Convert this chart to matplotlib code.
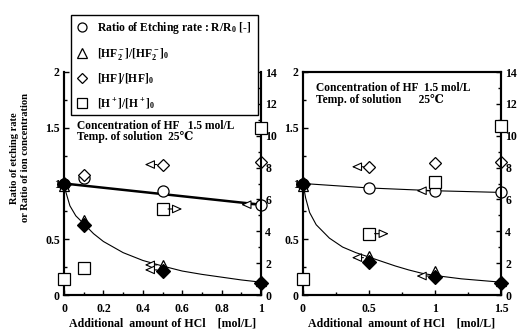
import numpy as np
import matplotlib
matplotlib.use("Agg")
import matplotlib.pyplot as plt
from matplotlib.lines import Line2D
from matplotlib.ticker import MultipleLocator

plt.rcParams['font.family'] = ['Liberation Serif', 'DejaVu Serif']
plt.rcParams['font.weight'] = 'bold'
plt.rcParams['axes.labelweight'] = 'bold'
plt.rcParams['mathtext.fontset'] = 'custom'
plt.rcParams['mathtext.rm'] = 'Liberation Serif:bold'
plt.rcParams['mathtext.it'] = 'Liberation Serif:bold'
plt.rcParams['mathtext.bf'] = 'Liberation Serif:bold'

# Data: left panel (HCl 0-1 mol/L)
hcl_a = [0, 0.1, 0.5, 1.0]
rate_a = [1.0, 1.05, 0.93, 0.81]
hf2_a = [0.98, 0.67, 0.27, 0.13]
hf_a = [1.0, 1.08, 1.17, 1.19]
calc_a = [1.0, 0.63, 0.215, 0.11]
h_a = [0.98, 1.68, 5.4, 10.5]          # right axis
fit_x_a = [0, 1.0]
fit_y_a = [1.0, 0.81]
curve_x_a = [0, 0.01, 0.03, 0.06, 0.1, 0.15, 0.2, 0.3, 0.4, 0.5, 0.6, 0.7, 0.8, 0.9, 1.0]
curve_y_a = [1.0, 0.92, 0.80, 0.71, 0.64, 0.55, 0.48, 0.38, 0.31, 0.26, 0.215, 0.185, 0.16, 0.135, 0.115]
# arrows: (from x, y, to x)
left_arr_a = [(0.5, 1.17, 0.41), (0.5, 0.27, 0.41), (0.5, 0.225, 0.41), (1.0, 0.81, 0.90)]
right_arr_a = [(0.5, 5.4, 0.60)]

# Data: right panel (HCl 0-1.5 mol/L)
hcl_b = [0, 0.5, 1.0, 1.5]
rate_b = [1.0, 0.96, 0.935, 0.92]
hf2_b = [0.98, 0.35, 0.215, 0.13]
hf_b = [1.0, 1.15, 1.18, 1.195]
calc_b = [1.0, 0.30, 0.165, 0.11]
h_b = [0.98, 3.85, 7.1, 10.6]
curve_x_b = [0, 0.02, 0.05, 0.1, 0.2, 0.3, 0.4, 0.5, 0.6, 0.7, 0.8, 0.9, 1.0, 1.2, 1.5]
curve_y_b = [1.0, 0.87, 0.74, 0.63, 0.51, 0.43, 0.38, 0.34, 0.30, 0.26, 0.225, 0.195, 0.175, 0.145, 0.115]
left_arr_b = [(0.5, 1.15, 0.37), (0.5, 0.335, 0.37), (1.0, 0.935, 0.86), (1.0, 0.17, 0.86)]
right_arr_b = [(0.5, 3.85, 0.65)]

W, H = 519, 329
fig = plt.figure(figsize=(W / 100, H / 100), dpi=100)

def arrow(ax, x0, y, x1):
    ax.annotate('', xy=(x1, y), xytext=(x0, y), annotation_clip=False,
                arrowprops=dict(arrowstyle='-|>,head_length=0.6,head_width=0.27',
                                fc='white', ec='black', lw=0.8, shrinkA=4, shrinkB=0))

def panel(rect, x, rate, hf2, hf, calc, h, curve_x, curve_y, line_x, line_y, line_w,
          xmax, xmaj, xmin, larr, rarr, top):
    ax = fig.add_axes(rect)
    ax2 = ax.twinx()
    ax.plot(line_x, line_y, color='black', lw=line_w, zorder=2)
    ax.plot(curve_x, curve_y, color='black', lw=0.8, zorder=2)
    ms = dict(clip_on=False, ls='none', mec='black', mew=0.9, zorder=3)
    ax.plot(x, rate, marker='o', ms=8, mfc='white', **ms)
    ax.plot(x, hf, marker='D', ms=6, mfc='white', **ms)
    ax.plot(x, hf2, marker='^', ms=7, mfc='white', **ms)
    ax.plot(x, calc, marker='D', ms=7, mfc='black', **ms)
    ax2.plot(x, h, marker='s', ms=8, mfc='white', **ms)
    for a in larr:
        arrow(ax, *a)
    for a in rarr:
        arrow(ax2, *a)
    ax.set_xlim(0, xmax)
    ax.set_ylim(0, 2)
    ax2.set_ylim(0, 14)
    ax.xaxis.set_major_locator(MultipleLocator(xmaj))
    ax.xaxis.set_minor_locator(MultipleLocator(xmin))
    ax.yaxis.set_major_locator(MultipleLocator(0.5))
    ax.yaxis.set_minor_locator(MultipleLocator(0.25))
    ax2.yaxis.set_major_locator(MultipleLocator(2))
    ax2.yaxis.set_minor_locator(MultipleLocator(1))
    for a in (ax, ax2):
        a.tick_params(which='both', direction='in', labelsize=8.5, width=1, pad=3)
        a.tick_params(which='major', length=3.5)
        a.tick_params(which='minor', length=2)
        for s in a.spines.values():
            s.set_linewidth(1.5)
        a.spines['top'].set_visible(top)
    ax.tick_params(axis='x', pad=5.5)
    ax.xaxis.set_major_formatter(plt.FuncFormatter(lambda v, p: f'{v:g}'))
    ax.yaxis.set_major_formatter(plt.FuncFormatter(lambda v, p: f'{v:g}'))
    ax2.set_zorder(ax.get_zorder() + 1)
    ax2.patch.set_visible(False)
    ax.set_xlabel('Additional  amount of HCl    [mol/L]', fontsize=8.6,
                  fontweight='bold', labelpad=2)
    return ax, ax2

ax_a, ax2_a = panel([64 / W, 1 - 295 / H, 197 / W, 223 / H], hcl_a, rate_a, hf2_a, hf_a,
                    calc_a, h_a, curve_x_a, curve_y_a, fit_x_a, fit_y_a, 1.8,
                    1.0, 0.2, 0.1, left_arr_a, right_arr_a, False)
ax_b, ax2_b = panel([303 / W, 1 - 295 / H, 198 / W, 223 / H], hcl_b, rate_b, hf2_b, hf_b,
                    calc_b, h_b, curve_x_b, curve_y_b, hcl_b, rate_b, 0.8,
                    1.5, 0.5, 0.25, left_arr_b, right_arr_b, True)

ax_a.text(0.065, 0.785, 'Concentration of HF   1.5 mol/L\nTemp. of solution  25\u2103',
          transform=ax_a.transAxes, fontsize=8.3, va='top', linespacing=0.95)
ax_b.text(0.065, 0.955, 'Concentration of HF  1.5 mol/L\nTemp. of solution      25\u2103',
          transform=ax_b.transAxes, fontsize=8.3, va='top', linespacing=0.95)

fig.text(20 / W, 1 - 158 / H, 'Ratio of etching rate\nor Ratio of ion concentration',
         rotation=90, ha='center', va='center', fontsize=7.6, multialignment='center',
         linespacing=1.3)

# legend
mk = dict(ls='none', color='black', mfc='white', mew=0.9)
handles = [Line2D([], [], marker='o', ms=6.5, **mk),
           Line2D([], [], marker='^', ms=6.5, **mk),
           Line2D([], [], marker='D', ms=5, **mk),
           Line2D([], [], marker='s', ms=6.5, **mk)]
labels = ['Ratio of Etching rate : R/R$_0$ [-]',
          '[HF$_2^-$]/[HF$_2^-$]$_0$',
          '[HF]/[HF]$_0$',
          '[H$^+$]/[H$^+$]$_0$']
leg = fig.legend(handles, labels, loc='upper left',
                 bbox_to_anchor=(71 / W, 1 - 115 / H, 187 / W, 100 / H), mode='expand',
                 fontsize=8.4, frameon=True, fancybox=False, framealpha=1,
                 edgecolor='black', handlelength=1.0, handletextpad=0.8,
                 labelspacing=0.85, borderpad=0.4, borderaxespad=0)
leg.get_frame().set_linewidth(1.0)
fig.canvas.draw()
inv = fig.transFigure.inverted()
for t in leg.get_texts()[1:]:
    bb = t.get_window_extent()
    yc = inv.transform((0, (bb.y0 + bb.y1) / 2))[1]
    fig.text(233 / W, yc, '[-]', fontsize=8.4, va='center')

fig.savefig('out.png', dpi=100)
